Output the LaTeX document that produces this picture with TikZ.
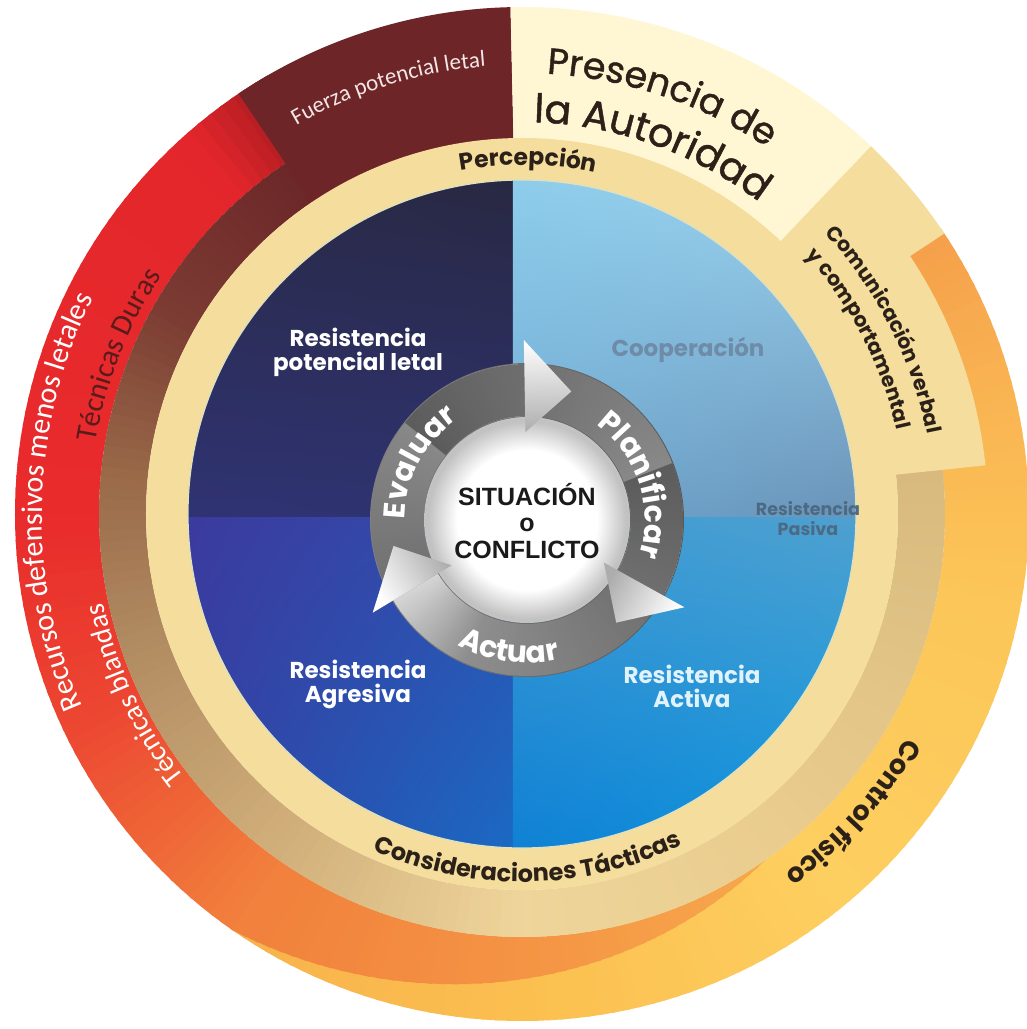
\documentclass[tikz,border=0pt]{standalone}
\usepackage{fontspec}
\setmainfont{Poppins}
\newfontfamily\pop{Poppins}
\newfontfamily\popm[FakeBold=1.2]{Poppins}
\newfontfamily\carl{Carlito}
\newfontfamily\lsans{Liberation Sans}
\usetikzlibrary{decorations.text,shadings}

\definecolor{perc}{HTML}{F4DD9D}
\definecolor{pres}{HTML}{FFF6D3}
\definecolor{fuer}{HTML}{6D2528}
\definecolor{ctA}{HTML}{F8B24C}
\definecolor{ctB}{HTML}{FBBF4F}
\definecolor{ctC}{HTML}{FDCF60}
\definecolor{ctD}{HTML}{FCC658}
\definecolor{ctE}{HTML}{F9B352}
\definecolor{ctF}{HTML}{F5A04B}
\definecolor{rdA}{HTML}{A01B20}
\definecolor{rdB}{HTML}{E3262B}
\definecolor{rdC}{HTML}{E92B2C}
\definecolor{rdD}{HTML}{EC4631}
\definecolor{rdE}{HTML}{F1803C}
\definecolor{rdF}{HTML}{F7A84C}
\definecolor{brA}{HTML}{6A2427}
\definecolor{brB}{HTML}{7B3B32}
\definecolor{brC}{HTML}{9A6A49}
\definecolor{brD}{HTML}{B28D63}
\definecolor{brE}{HTML}{D2B07B}
\definecolor{brF}{HTML}{EFD59B}
\definecolor{brG}{HTML}{E8CB8C}
\definecolor{brH}{HTML}{D8BA7E}
\definecolor{tdark}{HTML}{2B2118}
\definecolor{coop}{HTML}{6E8CA8}
\definecolor{pasiva}{HTML}{4D6A83}
\definecolor{activa}{HTML}{E0F2FB}
\definecolor{tduras}{HTML}{5A1B1D}
\definecolor{fuerT}{HTML}{F3E6E6}
\definecolor{cdark}{HTML}{1A1A1A}
\definecolor{cycL}{HTML}{D6D6D6}
\definecolor{cycM}{HTML}{8E8E8E}
\definecolor{cycD}{HTML}{5C5C5C}
\definecolor{tlA}{HTML}{2B2A4A}
\definecolor{tlB}{HTML}{282842}
\definecolor{tlC}{HTML}{2F3372}
\definecolor{tlD}{HTML}{2E3370}
\definecolor{blA}{HTML}{3C3A9E}
\definecolor{blB}{HTML}{2F4FAE}
\definecolor{blC}{HTML}{3142A4}
\definecolor{blD}{HTML}{1A6AC4}
\definecolor{trA}{HTML}{8ECDEB}
\definecolor{trB}{HTML}{9CD3EE}
\definecolor{trC}{HTML}{6FA9D2}
\definecolor{trD}{HTML}{6A93B8}
\definecolor{bqA}{HTML}{3D9BD4}
\definecolor{bqB}{HTML}{4FA0CF}
\definecolor{bqC}{HTML}{0F80D4}
\definecolor{bqD}{HTML}{0B98E0}

\newcommand\fQuad{\pop\bfseries\fontsize{23}{24}\selectfont}
\newcommand\fPas{\pop\bfseries\fontsize{17.5}{20}\selectfont}
\newcommand\fCen{\lsans\bfseries\fontsize{25}{26.5}\selectfont}
\newcommand\fPerc{\color{tdark}\pop\bfseries\fontsize{23.5}{23.5}\selectfont}
\newcommand\fCons{\color{tdark}\pop\bfseries\fontsize{24}{24}\selectfont}
\newcommand\fPresA{\color{tdark}\popm\fontsize{36.5}{36.5}\selectfont}
\newcommand\fPresB{\color{tdark}\popm\fontsize{39.5}{39.5}\selectfont}
\newcommand\fComu{\color{tdark}\pop\bfseries\fontsize{20.5}{20.5}\selectfont}
\newcommand\fCtrl{\color{tdark}\pop\bfseries\fontsize{27}{27}\selectfont}
\newcommand\fFuer{\color{fuerT}\carl\fontsize{23}{23}\selectfont}
\newcommand\fRec{\color{white}\carl\fontsize{30}{30}\selectfont}
\newcommand\fTD{\color{tduras}\carl\fontsize{30}{30}\selectfont}
\newcommand\fTB{\color{white}\carl\fontsize{28.5}{28.5}\selectfont}
\newcommand\fCyc{\color{white}\pop\bfseries\fontsize{30}{30}\selectfont}

% annular sector: a1, a2, rin, rout, style
\newcommand\annsec[5]{\fill[#5] (#1:#3) arc[start angle=#1,end angle=#2,radius=#3] -- (#2:#4) arc[start angle=#2,end angle=#1,radius=#4] -- cycle;}
% gradient annular sector: a1<a2, rin, rout, colour at a1, colour at a2
\newcommand\gradsec[6]{%
  \pgfmathtruncatemacro\gsn{max(1,round((#2-#1)/1.5))}%
  \foreach \gi in {1,...,\gsn}{%
    \pgfmathsetmacro\gsa{#1+(#2-#1)*(\gi-1)/\gsn}%
    \pgfmathsetmacro\gsb{#1+(#2-#1)*\gi/\gsn+0.4}%
    \pgfmathsetmacro\gsp{100*(\gi-0.5)/\gsn}%
    \fill[#6!\gsp!#5] (\gsa:#3) arc[start angle=\gsa,end angle=\gsb,radius=#3] -- (\gsb:#4) arc[start angle=\gsb,end angle=\gsa,radius=#4] -- cycle;}}
% tapered sector: a1<a2, rin, rout at a1, rout at a2 (numbers), colours
\newcommand\tapersec[7]{%
  \pgfmathtruncatemacro\gsn{max(1,round((#2-#1)/1.5))}%
  \foreach \gi in {1,...,\gsn}{%
    \pgfmathsetmacro\gsa{#1+(#2-#1)*(\gi-1)/\gsn}%
    \pgfmathsetmacro\gsb{#1+(#2-#1)*\gi/\gsn+0.4}%
    \pgfmathsetmacro\gra{#4+(#5-#4)*(\gi-1)/\gsn}%
    \pgfmathsetmacro\grb{#4+(#5-#4)*\gi/\gsn}%
    \pgfmathsetmacro\gsp{100*(\gi-0.5)/\gsn}%
    \fill[#7!\gsp!#6] (\gsa:#3) arc[start angle=\gsa,end angle=\gsb,radius=#3] -- (\gsb:\grb pt) -- (\gsa:\gra pt) -- cycle;}}
% text along arcs: centre angle, radius, half span, format, text
\newcommand\cwtext[5]{\path[decorate,decoration={text along path,text align=center,text={|#4|#5}}] (#1+#3:#2) arc[start angle=#1+#3,end angle=#1-#3,radius=#2];}
\newcommand\ccwtext[5]{\path[decorate,decoration={text along path,text align=center,text={|#4|#5}}] (#1-#3:#2) arc[start angle=#1-#3,end angle=#1+#3,radius=#2];}

\pgfdeclareradialshading{whiteball}{\pgfpoint{0bp}{0bp}}{color(0bp)=(white); color(17bp)=(white); color(24bp)=(black!24); color(50bp)=(black!24)}

\begin{document}
\begin{tikzpicture}[x=1pt,y=1pt,
  qlab/.style={align=center,inner sep=0pt,font=\fQuad}]
\useasboundingbox (-522,-515) rectangle (505,514);
\fill[white] (-522,-515) rectangle (505,514);

% Control fisico ring
\gradsec{-125}{-90}{423pt}{507pt}{ctA}{ctB}
\gradsec{-90}{-50}{423pt}{507pt}{ctB}{ctC}
\gradsec{-50}{-10}{423pt}{507pt}{ctC}{ctD}
\gradsec{-10}{15}{423pt}{507pt}{ctD}{ctE}
\gradsec{15}{34}{423pt}{507pt}{ctE}{ctF}

% Recursos defensivos ring
\gradsec{120}{131}{423pt}{507pt}{rdA}{rdB}
\gradsec{131}{180}{423pt}{507pt}{rdB}{rdC}
\gradsec{180}{205}{423pt}{507pt}{rdC}{rdD}
\gradsec{205}{235}{423pt}{507pt}{rdD}{rdE}
\tapersec{235}{305}{423pt}{507}{423}{rdE}{rdF}

% Tecnicas ring
\gradsec{120}{150}{376pt}{423pt}{brA}{brB}
\gradsec{150}{175}{376pt}{423pt}{brB}{brC}
\gradsec{175}{200}{376pt}{423pt}{brC}{brD}
\gradsec{200}{235}{376pt}{423pt}{brD}{brE}
\gradsec{235}{270}{376pt}{423pt}{brE}{brF}
\gradsec{270}{315}{376pt}{423pt}{brF}{brG}
\gradsec{315}{366}{376pt}{423pt}{brG}{brH}

% blocks
\annsec{91.3}{124}{372pt}{507pt}{fuer}
\annsec{46.5}{91.3}{372pt}{507pt}{pres}
\annsec{6}{46.5}{372pt}{466pt}{perc}
\annsec{33.6}{46.5}{372pt}{507pt}{perc}

% Percepcion ring
\fill[perc] (0,0) circle[radius=376pt];

% blue quadrants
\begin{scope}
\clip (0,0) circle[radius=334pt];
\shade[upper left=tlA, upper right=tlB, lower left=tlC, lower right=tlD] (-340,-3) rectangle (-9,340);
\shade[upper left=blA, upper right=blB, lower left=blC, lower right=blD] (-340,-340) rectangle (-9,-3);
\shade[upper left=trA, upper right=trB, lower left=trC, lower right=trD] (-9,-3) rectangle (340,340);
\shade[upper left=bqA, upper right=bqB, lower left=bqC, lower right=bqD] (-9,-340) rectangle (340,-3);
\end{scope}
\draw[line width=1.2pt,color=white!70!cyan!40!perc] (0,0) circle[radius=334pt];

% ring texts
\cwtext{89}{349pt}{40}{\fPerc}{Percepción}
\ccwtext{271}{368pt}{40}{\fCons}{Consideraciones Tácticas}
\cwtext{107.4}{449pt}{30}{\fFuer}{Fuerza potencial letal}
\cwtext{71.5}{441pt}{40}{\fPresA}{Presencia de}
\cwtext{70.5}{392pt}{40}{\fPresB}{la Autoridad}
\cwtext{27}{413pt}{35}{\fComu}{Comunicación verbal}
\cwtext{27.5}{384pt}{35}{\fComu}{y comportamental}
\cwtext{-42}{445pt}{30}{\fCtrl}{Control físico}
\cwtext{178.5}{480pt}{45}{\fRec}{Recursos defensivos menos letales}
\cwtext{158.5}{432pt}{30}{\fTD}{Técnicas Duras}
\cwtext{205}{428pt}{30}{\fTB}{Técnicas blandas}

% quadrant labels
\node[qlab,text=white] (rpl) at (-164,162) {Resistencia\\potencial letal};
\node[qlab,text=coop] (coop) at (166,164) {Cooperación};
\node[qlab,font=\fPas,text=pasiva] (rpas) at (286,-5) {Resistencia\\Pasiva};
\node[qlab,text=white] (ragr) at (-164,-170) {Resistencia\\Agresiva};
\node[qlab,text=activa] (ract) at (170,-172) {Resistencia\\Activa};

% cycle
\begin{scope}[shift={(5,-6)}]
\shade[even odd rule,left color=black!50,right color=black!66] (0,0) circle[radius=157pt] (0,0) circle[radius=103pt];
\foreach \h in {91,-29,211}{
  \gradsec{\h}{\h+35}{104pt}{156pt}{cycL}{cycM}
  \gradsec{\h+35}{\h+100}{104pt}{156pt}{cycM}{cycD}
}
\shade[shading=whiteball] (0,0) circle[radius=103pt];
\foreach \h in {91,-29,211}{
  \shade[top color=white,bottom color=black!32,shading angle=\h-90] (\h:88pt) -- (\h:180pt) -- (\h-20:136pt) -- cycle;
}
\cwtext{152}{122pt}{50}{\fCyc}{Evaluar}
\cwtext{18}{118pt}{50}{\fCyc}{Planificar}
\ccwtext{262}{143pt}{50}{\fCyc}{Actuar}
\node[align=center,font=\fCen,text=cdark,inner sep=0pt] (sit) at (0,-1) {SITUACIÓN\\o\\CONFLICTO};
\end{scope}

\end{tikzpicture}
\end{document}
